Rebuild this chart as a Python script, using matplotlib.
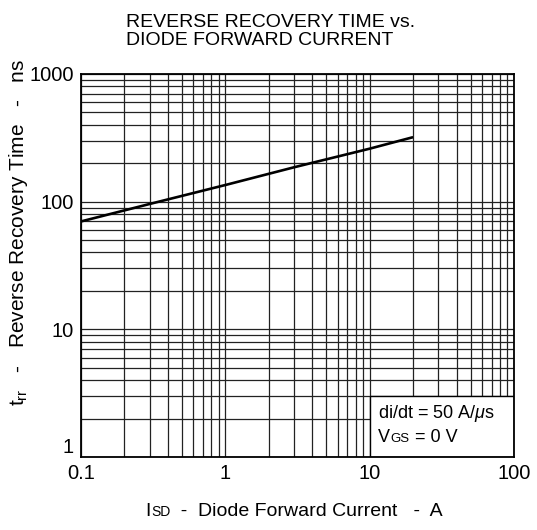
import numpy as np
import matplotlib
matplotlib.use('Agg')
from matplotlib import pyplot as plt
from matplotlib import ticker
from matplotlib.patches import Rectangle
from matplotlib.offsetbox import TextArea, HPacker, AnnotationBbox

# values
current = [0.1, 0.3, 1, 3, 10, 20]          # I_SD, A
trr = [70, 96, 135, 186, 260, 320]           # t_rr, ns

xticks = [0.1, 1, 10, 100]
xticklabels = ['0.1', '1', '10', '100']
yticks = [1, 10, 100, 1000]
yticklabels = ['1', '10', '100', '1000']

plt.rcParams['font.family'] = ['Liberation Sans', 'DejaVu Sans']
plt.rcParams['mathtext.fontset'] = 'custom'
plt.rcParams['mathtext.rm'] = 'Liberation Sans'
plt.rcParams['mathtext.it'] = 'Liberation Sans:italic'


def mixed_text(ax, pieces, xy, xycoords, box_alignment):
    # pieces: list of (text, fontsize), baseline aligned
    areas = [TextArea(t, textprops=dict(fontsize=s, color='black')) for t, s in pieces]
    pack = HPacker(children=areas, align='baseline', pad=0, sep=0)
    ab = AnnotationBbox(pack, xy, xycoords=xycoords, frameon=False,
                        box_alignment=box_alignment, pad=0, zorder=6)
    ax.add_artist(ab)


fig = plt.figure(figsize=(5.37, 5.30), dpi=100)
ax = fig.add_axes([0.1508, 0.1377, 0.8063, 0.7227])

ax.set_xscale('log')
ax.set_yscale('log')
ax.set_xlim(0.1, 100)
ax.set_ylim(1, 1000)

ax.set_xticks(xticks)
ax.set_xticklabels(xticklabels)
ax.set_yticks(yticks)
ax.set_yticklabels(yticklabels)
for axis in (ax.xaxis, ax.yaxis):
    axis.set_minor_locator(ticker.LogLocator(base=10, subs=np.arange(2, 10), numticks=20))
    axis.set_minor_formatter(ticker.NullFormatter())
ax.tick_params(which='both', length=0, labelsize=14.5, pad=5)
ax.get_yticklabels()[0].set_verticalalignment('bottom')

ax.grid(True, which='both', color='#222222', linewidth=0.9)
ax.set_axisbelow(True)

ax.plot(current, trr, color='black', linewidth=1.9, zorder=4, solid_capstyle='butt')

# annotation box covering the grid in the lower right
ax.add_patch(Rectangle((10, 1), 90, 2, facecolor='white', edgecolor='black',
                       linewidth=1.0, zorder=3))
ax.text(11.5, 2.2, r'di/dt = 50 A/$\mu$s', fontsize=13, va='center', ha='left', zorder=6)
mixed_text(ax, [('V', 13), ('GS', 9.5), (' = 0 V', 13)], (11.5, 1.43), 'data', (0, 0.5))

for s in ax.spines.values():
    s.set_linewidth(1.3)
    s.set_zorder(5)

fig.text(0.235, 0.974, 'REVERSE RECOVERY TIME vs.\nDIODE FORWARD CURRENT',
         fontsize=14, ha='left', va='top', linespacing=1.08)

fig.text(0.034, 0.561, r'$\mathregular{t_{rr}}$   -   Reverse Recovery Time   -   ns',
         fontsize=15, rotation=90, ha='center', va='center')

mixed_text(ax, [('I', 14), ('SD', 10), ('  -  Diode Forward Current   -  A', 14)],
           (0.548, 0.035), 'figure fraction', (0.5, 0.5))

plt.savefig('out.png', dpi=100)
